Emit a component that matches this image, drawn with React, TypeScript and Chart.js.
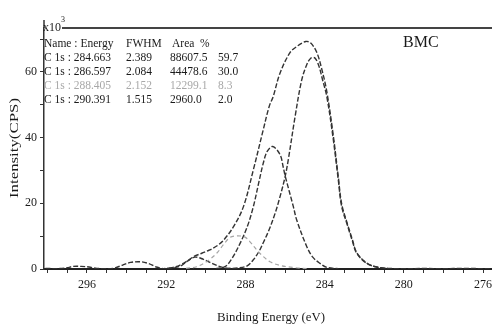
import React, { useEffect, useRef } from "react";
import { Chart, registerables } from "chart.js";
Chart.register(...registerables);

// ---- data (binding energy in eV, intensity in x10^3 CPS) ----
const envE = [298.1, 297.5, 297.0, 296.7, 296.3, 295.9, 295.5, 295.0, 294.6, 294.2, 293.8, 293.3, 292.9, 292.5, 292.1, 291.7, 291.3, 290.9, 290.6, 290.2, 289.8, 289.4, 289.1, 288.6, 288.1, 287.6, 287.1, 286.8, 286.6, 286.25, 285.75, 285.4, 284.95, 284.7, 284.4, 284.15, 283.89, 283.56, 283.31, 283.14, 282.88, 282.6, 282.38, 281.87, 281.37, 280.8, 280.0, 279.0, 278.0, 277.0, 276.0, 275.6];
const envI = [0.2, 0.1, 0.4, 0.8, 0.8, 0.6, 0.2, 0.1, 0.3, 1.2, 2.0, 2.2, 1.7, 0.6, 0.1, 0.4, 1.2, 2.6, 3.8, 4.8, 5.8, 7.2, 8.8, 12.9, 19.0, 30.2, 42.4, 49.5, 52.5, 59.7, 65.9, 67.8, 69.3, 68.8, 66.0, 61.0, 54.0, 40.5, 28.0, 19.8, 14.3, 9.0, 5.0, 1.8, 0.6, 0.2, 0.1, 0.15, 0.1, 0.2, 0.1, 0.1];

const c1E = [289.0, 288.4, 287.93, 287.6, 287.3, 287.1, 286.8, 286.5, 286.3, 286.0, 285.83, 285.49, 285.16, 284.9, 284.7, 284.5, 284.3, 284.1, 283.89, 283.56, 283.31, 283.14, 282.88, 282.6, 282.38, 281.87, 281.37, 280.8];
const c1I = [0.1, 0.3, 0.9, 2.8, 5.5, 8.0, 12.0, 17.0, 21.0, 28.0, 33.5, 46.5, 57.5, 62.3, 64.2, 64.3, 62.0, 57.5, 52.5, 39.3, 27.1, 19.0, 13.9, 8.5, 4.8, 1.7, 0.6, 0.15];

const c2E = [289.5, 289.03, 288.7, 288.27, 287.9, 287.6, 287.3, 287.1, 286.9, 286.62, 286.25, 286.09, 286.0, 285.58, 285.41, 284.9, 284.6, 284.23, 283.89, 283.3];
const c2I = [0.1, 0.7, 3.0, 7.8, 13.0, 19.0, 27.0, 32.2, 35.8, 37.3, 34.8, 31.0, 28.5, 19.0, 14.9, 6.8, 3.6, 1.7, 0.5, 0.1];

const c3E = [291.0, 290.46, 289.9, 289.45, 289.1, 288.78, 288.44, 288.02, 287.7, 287.43, 287.1, 286.76, 286.25, 285.5, 284.8];
const c3I = [0.2, 0.7, 2.5, 4.8, 7.5, 9.6, 10.1, 9.7, 7.8, 5.8, 3.8, 2.2, 1.1, 0.4, 0.1];

const c4E = [292.3, 291.81, 291.3, 290.95, 290.55, 290.14, 289.79, 289.28, 288.88, 288.4];
const c4I = [0.05, 0.3, 0.8, 2.3, 3.6, 3.0, 2.0, 0.7, 0.2, 0.05];

// ---- axes / labels ----
const xTickValues = [276, 277, 278, 279, 280, 281, 282, 283, 284, 285, 286, 287, 288, 289, 290, 291, 292, 293, 294, 295, 296, 297, 298];
const xLabelTicks = [296, 292, 288, 284, 280, 276];
const yTickValues = [0, 10, 20, 30, 40, 50, 60, 70];
const yLabelTicks = [0, 20, 40, 60];

const legendHeader = ["Name : Energy", "FWHM", "Area", "%"];
const legendNames = ["C 1s : 284.663", "C 1s : 286.597", "C 1s : 288.405", "C 1s : 290.391"];
const legendFwhm = ["2.389", "2.084", "2.152", "1.515"];
const legendArea = ["88607.5", "44478.6", "12299.1", "2960.0"];
const legendPct = ["59.7", "30.0", "8.3", "2.0"];

const xTitle = "Binding Energy (eV)";
const yTitle = "Intensity(CPS)";
const sampleName = "BMC";

const FONT = "'Liberation Serif', 'Times New Roman', serif";

const pts = (e: number[], i: number[]) => e.map((v, k) => ({ x: v, y: i[k] }));

const overlay = {
  id: "overlay",
  afterDraw(chart: any) {
    const ctx = chart.ctx as CanvasRenderingContext2D;
    const a = chart.chartArea;
    ctx.save();
    // top frame line
    ctx.strokeStyle = "#444";
    ctx.lineWidth = 2;
    ctx.beginPath();
    ctx.moveTo(62, a.top);
    ctx.lineTo(a.right, a.top);
    ctx.stroke();
    // left axis extension above frame
    ctx.lineWidth = 1.5;
    ctx.strokeStyle = "#333";
    ctx.beginPath();
    ctx.moveTo(a.left, a.top);
    ctx.lineTo(a.left, a.top - 8);
    ctx.stroke();

    ctx.fillStyle = "#1a1a1a";
    ctx.textBaseline = "alphabetic";
    ctx.textAlign = "left";
    // x10^3
    ctx.font = `12px ${FONT}`;
    ctx.fillText("x10", 43, 31);
    ctx.font = `8px ${FONT}`;
    ctx.fillText("3", 61, 22);

    // sample name
    ctx.font = `16px ${FONT}`;
    ctx.fillText(sampleName, 403, 47);

    // legend table
    ctx.font = `11.5px ${FONT}`;
    const colX = [44, 126, 170, 218];
    const hdrX = [44, 126, 172, 200];
    const y0 = 47;
    const dy = 14;
    legendHeader.forEach((t, k) => ctx.fillText(t, hdrX[k], y0));
    for (let r = 0; r < legendNames.length; r++) {
      ctx.fillStyle = r === 2 ? "#a8a8a8" : "#1a1a1a";
      const y = y0 + dy * (r + 1);
      ctx.fillText(legendNames[r], colX[0], y);
      ctx.fillText(legendFwhm[r], colX[1], y);
      ctx.fillText(legendArea[r], colX[2], y);
      ctx.fillText(legendPct[r], colX[3], y);
    }

    // axis titles
    ctx.fillStyle = "#1a1a1a";
    ctx.textAlign = "center";
    ctx.textBaseline = "middle";
    ctx.font = `13px ${FONT}`;
    let w = ctx.measureText(xTitle).width;
    ctx.save();
    ctx.translate(271, 318);
    ctx.scale(108 / w, 1);
    ctx.fillText(xTitle, 0, 0);
    ctx.restore();

    w = ctx.measureText(yTitle).width;
    ctx.save();
    ctx.translate(15, 148);
    ctx.rotate(-Math.PI / 2);
    ctx.scale(100 / w, 1);
    ctx.fillText(yTitle, 0, 0);
    ctx.restore();

    ctx.restore();
  },
};

export default function App() {
  const ref = useRef<HTMLCanvasElement | null>(null);
  useEffect(() => {
    if (!ref.current) return;
    const dark = "#333333";
    const dashed = (data: any, color: string, dash: number[], width: number) => ({
      data,
      borderColor: color,
      borderWidth: width,
      borderDash: dash,
      pointRadius: 0,
      tension: 0.35,
      fill: false,
    });
    const chart = new Chart(ref.current, {
      type: "line",
      data: {
        datasets: [
          dashed(pts(c3E, c3I), "#a5a5a5", [4, 3], 1.2),
          dashed(pts(c4E, c4I), dark, [5, 2], 1.4),
          dashed(pts(c2E, c2I), dark, [5, 2], 1.4),
          dashed(pts(c1E, c1I), dark, [5, 2], 1.4),
          dashed(pts(envE, envI), dark, [5, 2], 1.4),
        ],
      },
      options: {
        animation: false,
        responsive: false,
        devicePixelRatio: 1,
        layout: { padding: { top: 28, left: 0, right: 0, bottom: 0 } },
        plugins: { legend: { display: false }, tooltip: { enabled: false } },
        scales: {
          x: {
            type: "linear",
            reverse: true,
            min: 275.55,
            max: 298.17,
            afterBuildTicks: (s: any) => {
              s.ticks = xTickValues.map((v) => ({ value: v }));
            },
            afterFit: (s: any) => {
              s.height = 57;
            },
            ticks: {
              autoSkip: false,
              maxRotation: 0,
              padding: 5,
              color: "#1a1a1a",
              font: { family: FONT, size: 12 },
              callback: (v: any) => (xLabelTicks.includes(Number(v)) ? String(v) : ""),
            },
            grid: { drawOnChartArea: false, drawTicks: true, tickLength: 4, color: "#333", lineWidth: 1 },
            border: { display: true, color: "#222", width: 2 },
          },
          y: {
            type: "linear",
            min: 0,
            max: 73.4,
            afterBuildTicks: (s: any) => {
              s.ticks = yTickValues.map((v) => ({ value: v }));
            },
            afterFit: (s: any) => {
              s.width = 44;
            },
            ticks: {
              autoSkip: false,
              padding: 3,
              color: "#1a1a1a",
              font: { family: FONT, size: 12 },
              callback: (v: any) => (yLabelTicks.includes(Number(v)) ? String(v) : ""),
            },
            grid: { drawOnChartArea: false, drawTicks: true, tickLength: 4, color: "#333", lineWidth: 1 },
            border: { display: true, color: "#333", width: 1.5 },
          },
        },
      },
      plugins: [overlay],
    });
    return () => chart.destroy();
  }, []);
  return (
    <div style={{ position: "absolute", left: 0, top: 0, width: 492, height: 326, background: "#fff" }}>
      <canvas ref={ref} width={492} height={326} />
    </div>
  );
}
